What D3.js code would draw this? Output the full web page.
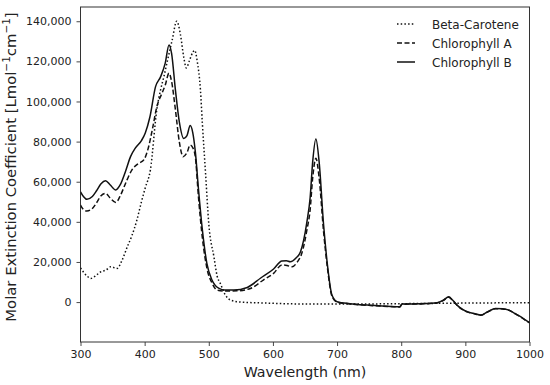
<!DOCTYPE html>
<html><head><meta charset="utf-8">
<script src="https://cdn.jsdelivr.net/npm/d3@7"></script>
<style>body{margin:0;background:#fff}svg{display:block}text{font-family:"DejaVu Sans",sans-serif;fill:#222}</style>
</head><body><svg id="c" width="550" height="385"></svg>
<script>
const xTicks = [300,400,500,600,700,800,900,1000];
const yTicks = [0,20000,40000,60000,80000,100000,120000,140000];
const seriesNames = ["Beta-Carotene","Chlorophyll A","Chlorophyll B"];

const betaWl = [300,310,316,325,331,340,347,357,365,373,380,388,395,401,409,419,425,430,436,443,450,456,461,465,470,475,478,482,487,490,495,500,508,513,518,525,534,550,580,620,660,700,800,900,1000];
const betaVal = [17000,13000,11800,13500,15000,16000,17600,16800,21000,27600,33000,41000,50000,57000,66000,96000,106000,112400,121000,130700,140000,133000,122000,116700,120500,124500,125500,120000,105700,89000,64000,39000,22600,13000,9300,4000,1000,0,-400,-800,-1000,-1000,-800,-500,-300];

const chlAWl = [300,305,310,318,325,332,339,346,355,362,370,380,390,399,405,412,419,427,432,438,442,448,454,460,466,471,475,479,484,490,497,505,513,525,544,565,585,601,614,622,630,638,645,653,658,662,667,672,679,685,692,700,720,747,770,796,798,801,830,856,866,874,880,887,895,903,915,924,935,947,958,968,978,986,994,1000];
const chlAVal = [48400,46000,45400,46500,49500,53000,54200,52000,49700,53000,59000,65800,69000,71000,76000,86000,97400,104100,108000,114100,110000,95800,80000,72500,74500,78300,77000,72500,52000,32000,17000,9500,6000,5500,5600,6800,11000,14300,18500,18200,17600,20000,24300,36000,46000,62000,71700,62000,35000,17000,3000,0,-900,-1600,-2000,-2400,-2400,-1100,-900,-400,900,2400,900,-1600,-3600,-4900,-5900,-6600,-4900,-3300,-3400,-4100,-5900,-7400,-9100,-10400];

const chlBWl = [300,305,310,318,325,332,339,346,355,362,370,378,386,395,401,408,417,425,432,438,442,448,454,461,466,471,475,479,484,490,497,505,516,525,539,560,581,601,614,621,627,636,643,653,658,662,667,672,679,685,692,700,720,747,770,796,798,801,830,856,866,874,880,887,895,903,915,924,935,947,958,968,978,986,994,1000];
const chlBVal = [55000,52500,51200,52500,55500,59000,60500,58500,55900,58500,65000,72500,77000,80500,84300,92000,107400,112400,119000,128200,124000,105700,90000,81600,83000,88000,84500,75000,56000,36000,19300,11000,6800,6000,6000,7300,12000,16500,20500,20600,20100,22000,25100,40000,52000,70000,81300,70000,38400,18500,3500,200,-800,-1500,-1900,-2300,-2300,-1000,-800,-300,1000,2600,1000,-1500,-3500,-4800,-5800,-6500,-4800,-3200,-3300,-4000,-5800,-7300,-9000,-10300];

const svg = d3.select("#c");
const L=80.5, R=529.5, T=7, B=342;
const x = d3.scaleLinear().domain([300,1000]).range([L,R]);
const y = d3.scaleLinear().domain([-19900,147100]).range([B,T]);

const fmt = d3.format(",");
const gx = svg.append("g").attr("transform",`translate(0,${B})`)
  .call(d3.axisBottom(x).tickValues(xTicks).tickSize(4).tickPadding(4).tickFormat(d3.format("d")));
const gy = svg.append("g").attr("transform",`translate(${L},0)`)
  .call(d3.axisLeft(y).tickValues(yTicks).tickSize(4).tickPadding(5).tickFormat(fmt));
[gx,gy].forEach(g=>{
  g.select(".domain").remove();
  g.selectAll("line").attr("stroke","#333").attr("stroke-width",0.9);
  g.selectAll("text").style("font-family","DejaVu Sans").style("font-size","11px").attr("fill","#222");
});

svg.append("rect").attr("x",L).attr("y",T).attr("width",R-L).attr("height",B-T)
  .attr("fill","none").attr("stroke","#333").attr("stroke-width",1);

const styles = {
  "Beta-Carotene": {wl:betaWl, v:betaVal, dash:"1.5,2.2"},
  "Chlorophyll A": {wl:chlAWl, v:chlAVal, dash:"5,2.5"},
  "Chlorophyll B": {wl:chlBWl, v:chlBVal, dash:null}
};
const line = d3.line().x(d=>x(d[0])).y(d=>y(d[1])).curve(d3.curveMonotoneX);
svg.append("clipPath").attr("id","pc").append("rect").attr("x",L).attr("y",T).attr("width",R-L).attr("height",B-T);
seriesNames.forEach(n=>{
  const s = styles[n];
  const pts = s.wl.map((w,i)=>[w,s.v[i]]);
  svg.append("path").attr("d",line(pts)).attr("fill","none").attr("stroke","#111")
    .attr("stroke-width",1.5).attr("stroke-dasharray",s.dash).attr("clip-path","url(#pc)");
});

// legend
const lg = svg.append("g");
seriesNames.forEach((n,i)=>{
  const yy = 24 + i*19;
  lg.append("line").attr("x1",397).attr("x2",415).attr("y1",yy).attr("y2",yy)
    .attr("stroke","#111").attr("stroke-width",1.5).attr("stroke-dasharray",styles[n].dash);
  lg.append("text").attr("x",432).attr("y",yy+4.5).style("font-size","12px").text(n);
});

svg.append("text").attr("x",305).attr("y",377).attr("text-anchor","middle").style("font-size","14.2px").text("Wavelength (nm)");
const yl = svg.append("text").attr("transform",`translate(16,167) rotate(-90)`).attr("text-anchor","middle").style("font-size","14.8px");
yl.append("tspan").text("Molar Extinction Coefficient [Lmol");
yl.append("tspan").attr("dy",-6).style("font-size","10.5px").text("\u22121");
yl.append("tspan").attr("dy",6).text("cm");
yl.append("tspan").attr("dy",-6).style("font-size","10.5px").text("\u22121");
yl.append("tspan").attr("dy",6).text("]");
</script></body></html>
